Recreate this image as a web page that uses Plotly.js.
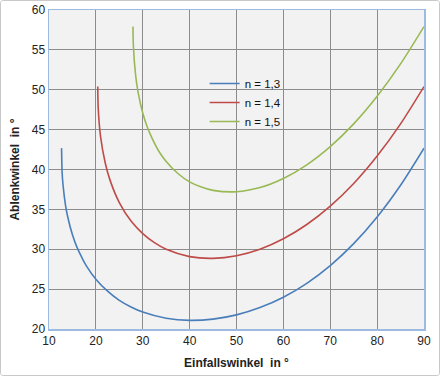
<!DOCTYPE html>
<html><head><meta charset="utf-8">
<script src="https://cdn.plot.ly/plotly-3.0.1.min.js"></script>
<style>
html,body{margin:0;padding:0;background:#fff;}
#wrap{width:440px;height:376px;box-sizing:border-box;border:1px solid #c9c9c9;border-radius:3px;overflow:hidden;}
#chart{width:438px;height:374px;}
</style></head><body>
<div id="wrap"><div id="chart"></div></div>
<script>
// Einfallswinkel (deg) and Ablenkwinkel (deg)
const x13 = [12.68, 12.8, 13, 13.5, 14, 15, 16, 17, 18, 20, 22.5, 25, 27.5, 30, 35, 40, 45, 50, 55, 60, 65, 70, 75, 80, 85, 90];
const y13 = [42.68, 39.59, 38.02, 35.61, 34.05, 31.81, 30.20, 28.97, 27.89, 26.25, 24.74, 23.59, 22.76, 22.12, 21.34, 21.08, 21.24, 21.77, 22.69, 23.99, 25.73, 27.95, 30.70, 34.04, 38.02, 42.67];
const x14 = [20.40, 20.5, 21, 22, 23, 25, 27.5, 30, 32.5, 35, 40, 45, 50, 55, 60, 65, 70, 75, 80, 85, 90];
const y14 = [50.40, 47.67, 44.13, 40.82, 38.70, 35.85, 33.53, 31.97, 30.83, 30.00, 29.08, 28.86, 29.19, 30.00, 31.31, 33.10, 35.40, 38.24, 41.68, 45.72, 50.40];
const x15 = [27.92, 28, 28.5, 29, 30, 31, 32, 33.5, 35, 37.5, 40, 42.5, 45, 50, 55, 60, 65, 70, 75, 80, 85, 90];
const y15 = [57.92, 55.49, 51.70, 49.71, 47.08, 45.27, 43.91, 42.23, 41.01, 39.50, 38.45, 37.79, 37.38, 37.21, 37.74, 38.88, 40.59, 42.87, 45.72, 49.18, 53.24, 57.92];
const names = ['n = 1,3', 'n = 1,4', 'n = 1,5'];
const colors = ['#4a7ebb', '#be4b48', '#98b954'];
const xTicks = [10, 20, 30, 40, 50, 60, 70, 80, 90];
const yTicks = [20, 25, 30, 35, 40, 45, 50, 55, 60];

const xs = [x13, x14, x15], ys = [y13, y14, y15];
const data = xs.map((x, i) => ({
  x: x, y: ys[i], name: names[i], type: 'scatter', mode: 'lines',
  line: {color: colors[i], width: 1.6, shape: 'spline', smoothing: 0.8}
}));
const font = {family: 'Liberation Sans, Arial, sans-serif', size: 12, color: '#222'};
const layout = {
  width: 438, height: 374,
  margin: {l: 48, r: 15, t: 9, b: 46},
  paper_bgcolor: '#ffffff', plot_bgcolor: '#f2f2f2',
  font: font,
  showlegend: true,
  legend: {x: 0.415, y: 0.815, xanchor: 'left', yanchor: 'top', bgcolor: 'rgba(0,0,0,0)',
    font: {family: 'Liberation Sans, Arial, sans-serif', size: 11.5, color: '#111'},
    itemwidth: 30, tracegroupgap: 0},
  xaxis: {range: [10, 90], tickvals: xTicks, ticktext: xTicks.map(String),
    showgrid: true, gridcolor: '#8c8c8c', gridwidth: 1,
    showline: true, linecolor: '#9dbbe0', linewidth: 1.5, mirror: true,
    ticks: '', zeroline: false, tickfont: font,
    title: {text: '<b>Einfallswinkel  in °</b>', font: font, standoff: 11}},
  yaxis: {range: [20, 60], tickvals: yTicks, ticktext: yTicks.map(String),
    showgrid: true, gridcolor: '#8c8c8c', gridwidth: 1,
    showline: true, linecolor: '#9dbbe0', linewidth: 1.5, mirror: true,
    ticks: '', zeroline: false, tickfont: font,
    title: {text: '<b>Ablenkwinkel  in °</b>', font: font, standoff: 9}}
};
Plotly.newPlot('chart', data, layout, {displayModeBar: false, staticPlot: true});
</script></body></html>
